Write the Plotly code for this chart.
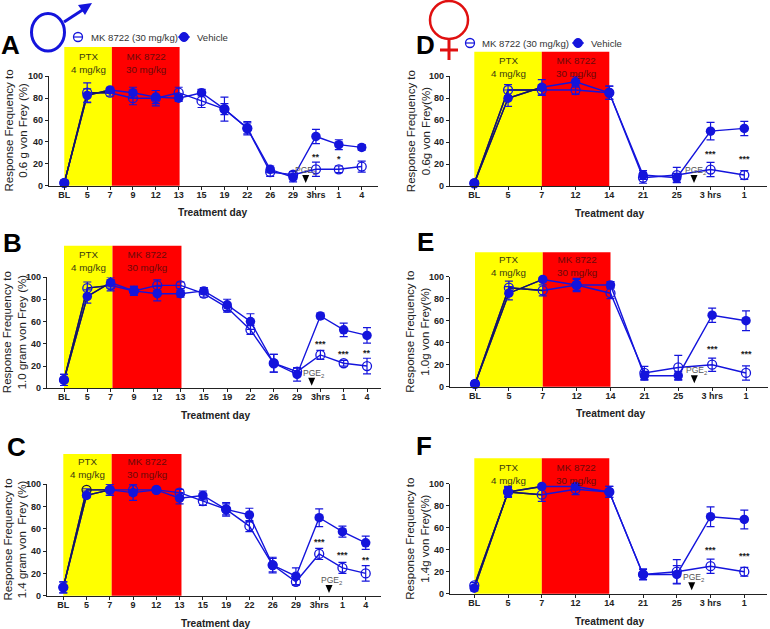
import plotly.graph_objects as go

W, H = 770, 629
BLUE = "#1414dc"
DARK = "#17175a"

# x categories
days_left = ["BL", "5", "7", "9", "12", "13", "15", "19", "22", "26", "29", "3hrs", "1", "4"]
days_right = ["BL", "5", "7", "12", "14", "21", "25", "3 hrs", "1"]

# panel A, 0.6 g male
a_mk = [2.5, 85, 85, 80, 80, 85, 77.5, 70, 52.5, 12.5, 10, 15, 15, 17.5]
a_mk_err = [2.5, 9, 3, 6, 7, 5, 6, 11, 5, 4, 3, 6.5, 3, 5]
a_veh = [2.5, 82.5, 87.5, 85, 81, 80, 85, 70, 52.5, 15, 7.5, 45, 37.5, 35]
a_veh_err = [2.5, 6, 2, 5, 6, 3, 3, 5, 6, 3, 4, 6.5, 4.5, 2.5]

# panel B, 1.0 g male
b_mk = [7.5, 90, 92.5, 87.5, 92.5, 92.5, 85, 72.5, 52.5, 22.5, 15, 30, 22.5, 20]
b_mk_err = [5, 5.5, 5, 4, 5, 3, 3, 4, 4, 8, 3, 4, 2.5, 7]
b_veh = [7.5, 82.5, 95, 87.5, 85, 85, 87.5, 75, 60, 22.5, 12.5, 65, 52.5, 47.5]
b_veh_err = [5, 6, 5, 4, 6.5, 3, 3, 5, 7, 8, 6, 2.5, 6, 7]

# panel C, 1.4 g male
c_mk = [7.5, 95, 95, 95, 95, 92.5, 85, 77.5, 62.5, 27.5, 12.5, 37.5, 25, 20]
c_mk_err = [5, 1, 5, 5, 2, 3, 4, 5, 5, 6, 3, 5, 5, 7]
c_veh = [7.5, 90, 95, 92.5, 95, 87.5, 90, 77.5, 72.5, 27.5, 17.5, 70, 57.5, 47.5]
c_veh_err = [5, 2, 5, 7, 2, 5, 4, 6, 6, 7, 7.5, 8, 5, 6]

# panel D, 0.6 g female
d_mk = [2.5, 87.5, 87.5, 87.5, 85, 7.5, 10, 15, 10]
d_mk_err = [2.5, 5, 5, 4, 6, 5, 7, 6.5, 4]
d_veh = [2.5, 80, 90, 95, 85, 10, 7.5, 50, 52.5]
d_veh_err = [2.5, 7.5, 7, 5, 6, 4, 4, 8, 6.5]

# panel E, 1.0 g female
e_mk = [2.5, 90, 87.5, 92.5, 85, 12.5, 17.5, 20, 12.5]
e_mk_err = [2.5, 6, 5, 6, 5, 6, 11, 6, 6.5]
e_veh = [2.5, 85, 97.5, 92.5, 92.5, 10, 10, 65, 60]
e_veh_err = [2.5, 6, 2, 5, 3, 4, 4, 6.5, 9]

# panel F, 1.4 g female
f_mk = [7.5, 92.5, 90, 95, 92.5, 17.5, 20, 25, 20]
f_mk_err = [2.5, 5, 6, 5, 5, 5, 11, 6.5, 4]
f_veh = [5, 92.5, 97.5, 97.5, 92.5, 17.5, 17.5, 70, 67.5]
f_veh_err = [2.5, 4, 2, 3, 5, 4.5, 8, 9, 8.5]


def px(x):
    return x / W


def py(y):
    return 1 - y / H


# pixel layout: axis left/right, first/last category, y of 0 and 100, band top
panels = [
    dict(name="A", days=days_left, mk=a_mk, mk_err=a_mk_err, veh=a_veh, veh_err=a_veh_err,
         ytitle="Response Frequency to<br>0.6 g von Frey (%)", ytitle_x=15.5, xtitle=(213, 212.7),
         left=49, right=378, first=64.3, last=361.7, y0=185.7, y100=76.3, top=47, split=2.08, end=5.04,
         band_y=62.5, letter=(10, 45), stars=[(11, 26, "**"), (12, 24, "*")],
         pge=(305, 170), tri=(305.7, 179)),
    dict(name="B", days=days_left, mk=b_mk, mk_err=b_mk_err, veh=b_veh, veh_err=b_veh_err,
         ytitle="Response Frequency to<br>1.0 gram von Frey (%)", ytitle_x=14.5, xtitle=(215, 416),
         left=47, right=381, first=64, last=367, y0=388.3, y100=277, top=245.7, split=2.08, end=5.04,
         band_y=261, letter=(13, 243), stars=[(11, 40, "***"), (12, 31, "***"), (13, 32, "**")],
         pge=(313, 373), tri=(311.7, 381.7)),
    dict(name="C", days=days_left, mk=c_mk, mk_err=c_mk_err, veh=c_veh, veh_err=c_veh_err,
         ytitle="Response Frequency to<br>1.4 gram von  Frey (%)", ytitle_x=14.5, xtitle=(215, 623),
         left=47, right=381, first=63.3, last=365.7, y0=595.7, y100=484.3, top=454, split=2.08, end=5.08,
         band_y=468, letter=(16, 447), stars=[(11, 48, "***"), (12, 36.5, "***"), (13, 32, "**")],
         pge=(331, 580), tri=(329, 589)),
    dict(name="D", days=days_right, mk=d_mk, mk_err=d_mk_err, veh=d_veh, veh_err=d_veh_err,
         ytitle="Response Frequency to<br>0.6g von Frey(%)", ytitle_x=418, xtitle=(609, 213.7),
         left=450, right=767, first=474.3, last=744.3, y0=186, y100=76.3, top=51.7, split=2, end=4,
         band_y=67.5, letter=(425, 45), stars=[(7, 29, "***"), (8, 24.6, "***")],
         pge=(695.7, 170), tri=(694, 179)),
    dict(name="E", days=days_right, mk=e_mk, mk_err=e_mk_err, veh=e_veh, veh_err=e_veh_err,
         ytitle="Response Frequency to<br>1.0g von Frey(%)", ytitle_x=418, xtitle=(610.7, 414),
         left=450, right=768, first=475, last=746, y0=386.7, y100=276.7, top=252.3, split=2, end=4,
         band_y=266, letter=(425, 242), stars=[(7, 34, "***"), (8, 29.5, "***")],
         pge=(696, 370.7), tri=(694.3, 379.3)),
    dict(name="F", days=days_right, mk=f_mk, mk_err=f_mk_err, veh=f_veh, veh_err=f_veh_err,
         ytitle="Response Frequency to<br>1.4g von Frey(%)", ytitle_x=418, xtitle=(609, 621),
         left=450, right=767, first=474.3, last=744.3, y0=593.7, y100=483.7, top=458.3, split=2, end=4,
         band_y=473.5, letter=(424, 446), stars=[(7, 39.7, "***"), (8, 34.5, "***")],
         pge=(693, 577.7), tri=(691.7, 586.3)),
]

fig = go.Figure()
shapes = []
notes = []
axis_font = dict(family="Liberation Sans", size=9, color="#222222", weight="bold")


def note(x, y, text, size, color, xref="paper", yref="paper", angle=0, xanchor="center"):
    notes.append(dict(xref=xref, yref=yref, x=x, y=y, text=text, showarrow=False, textangle=angle,
                      xanchor=xanchor, yanchor="middle",
                      font=dict(family="Liberation Sans", size=size, color=color)))


def paper_shape(**kw):
    shapes.append(dict(xref="paper", yref="paper", **kw))


def legend_row(y, open_x, text_x, solid_x, vehicle_x):
    paper_shape(type="circle", x0=px(open_x - 4.5), x1=px(open_x + 4.5), y0=py(y + 4.5), y1=py(y - 4.5),
                line=dict(color=BLUE, width=1.3))
    paper_shape(type="line", x0=px(open_x - 4.5), x1=px(open_x + 4.5), y0=py(y), y1=py(y),
                line=dict(color=BLUE, width=1.2))
    note(px(text_x), py(y), "MK 8722 (30 mg/kg)", 9.6, "#333333", xanchor="left")
    paper_shape(type="circle", x0=px(solid_x - 4.5), x1=px(solid_x + 4.5), y0=py(y + 4.5), y1=py(y - 4.5),
                fillcolor=BLUE, line=dict(color=BLUE, width=1))
    paper_shape(type="line", x0=px(solid_x - 6), x1=px(solid_x + 6), y0=py(y), y1=py(y),
                line=dict(color=BLUE, width=1.2))
    note(px(vehicle_x), py(y), "Vehicle", 9.6, "#333333", xanchor="left")


for n, p in enumerate(panels):
    s = "" if n == 0 else str(n + 1)
    days = p["days"]
    step = (p["last"] - p["first"]) / (len(days) - 1)
    xr = [(p["left"] - p["first"]) / step, (p["right"] - p["first"]) / step]

    fig.update_layout({
        "xaxis" + s: dict(
            domain=[px(p["left"]), px(p["right"])], range=xr, type="category",
            categoryorder="array", categoryarray=days, tickvals=days, anchor="y" + s,
            showgrid=False, zeroline=False, showline=True, linecolor="#222222", linewidth=1.3,
            ticks="outside", ticklen=3, tickcolor="#222222", tickwidth=1.2,
            tickfont=axis_font, tickangle=0, ticklabelstandoff=-3,
        ),
        "yaxis" + s: dict(
            domain=[py(p["y0"]), py(p["y100"])], range=[0, 100], anchor="x" + s,
            tickvals=[0, 20, 40, 60, 80, 100], showgrid=False, zeroline=False,
            showline=True, linecolor="#222222", linewidth=1.3,
            ticks="outside", ticklen=3, tickcolor="#222222", tickwidth=1.2,
            tickfont=axis_font,
        ),
    })

    # lines first, then the part over the yellow band (darker there), then markers on top
    for vals in (p["mk"], p["veh"]):
        fig.add_trace(go.Scatter(x=days, y=vals, mode="lines", xaxis="x" + s, yaxis="y" + s,
                                 showlegend=False, cliponaxis=False, line=dict(color=BLUE, width=1.4)))
    for vals in (p["mk"], p["veh"]):
        fig.add_trace(go.Scatter(x=days[:3], y=vals[:3], mode="lines", xaxis="x" + s, yaxis="y" + s,
                                 showlegend=False, cliponaxis=False, line=dict(color=DARK, width=1.4)))

    mk_edge = [BLUE] * len(days)
    if p["name"] == "C":
        mk_edge[1] = "#14143c"
    fig.add_trace(go.Scatter(
        x=days, y=p["mk"], mode="markers", name="MK 8722 (30 mg/kg)",
        xaxis="x" + s, yaxis="y" + s, showlegend=False, cliponaxis=False,
        marker=dict(symbol="circle-open", size=9, color=mk_edge, line=dict(width=1.3, color=mk_edge)),
        error_y=dict(type="data", array=p["mk_err"], color=BLUE, thickness=1.2, width=4),
    ))
    fig.add_trace(go.Scatter(
        x=days, y=p["veh"], mode="markers", name="Vehicle",
        xaxis="x" + s, yaxis="y" + s, showlegend=False, cliponaxis=False,
        marker=dict(symbol="circle", size=9.5, color=BLUE),
        error_y=dict(type="data", array=p["veh_err"], color=BLUE, thickness=1.2, width=4),
    ))

    # treatment bands
    shapes.append(dict(type="rect", layer="below", xref="x" + s, yref="paper", x0=0, x1=p["split"],
                       y0=py(p["y0"]), y1=py(p["top"]), fillcolor="#ffff00", line_width=0))
    shapes.append(dict(type="rect", layer="below", xref="x" + s, yref="paper", x0=p["split"], x1=p["end"],
                       y0=py(p["y0"]), y1=py(p["top"]), fillcolor="#ff0000", line_width=0))
    note(p["split"] / 2, py(p["band_y"]), "PTX<br>4 mg/kg", 9.8, "#3a3a10", xref="x" + s)
    note((p["split"] + p["end"]) / 2, py(p["band_y"]), "MK 8722<br>30 mg/kg", 9.8, "#6a0a0a", xref="x" + s)

    # axis titles
    note(px(p["ytitle_x"]), py((p["y0"] + p["y100"]) / 2), p["ytitle"], 11.5, "#222222", angle=-90)
    note(px(p["xtitle"][0]), py(p["xtitle"][1]), "<b>Treatment day</b>", 10.2, "#222222")

    # panel letter
    note(px(p["letter"][0]), py(p["letter"][1]), "<b>%s</b>" % p["name"], 26, "#000000")

    # significance stars
    for day, val, mark in p["stars"]:
        note(day, val, "<b>%s</b>" % mark, 9, "#222222", xref="x" + s, yref="y" + s)

    # PGE2 marker
    note(px(p["pge"][0]), py(p["pge"][1]), "PGE<sub>2</sub>", 8.5, "#555555")
    tx, ty = p["tri"]
    paper_shape(type="path", fillcolor="#000000", line_width=0,
                path="M %f %f L %f %f L %f %f Z" % (px(tx - 3.5), py(ty - 4), px(tx + 3.5), py(ty - 4),
                                                    px(tx), py(ty + 4)))

legend_row(37, 78, 89, 184, 195)
legend_row(43, 470, 480, 578, 589)

# male symbol
paper_shape(type="circle", x0=px(31.5), x1=px(64.5), y0=py(51), y1=py(13.5), line=dict(color=BLUE, width=3))
paper_shape(type="line", x0=px(64), y0=py(22), x1=px(84), y1=py(9), line=dict(color=BLUE, width=3))
paper_shape(type="path", fillcolor=BLUE, line_width=0,
            path="M %f %f L %f %f L %f %f Z" % (px(78), py(5), px(92), py(3), px(85), py(15)))

# female symbol
paper_shape(type="circle", x0=px(430), x1=px(468), y0=py(39), y1=py(1), line=dict(color="#e01010", width=2.5))
paper_shape(type="line", x0=px(449), y0=py(39), x1=px(449), y1=py(60), line=dict(color="#e01010", width=3))
paper_shape(type="line", x0=px(440), y0=py(50), x1=px(458), y1=py(50), line=dict(color="#e01010", width=3))

fig.update_layout(
    width=W, height=H, margin=dict(l=0, r=0, t=0, b=0, autoexpand=False),
    paper_bgcolor="white", plot_bgcolor="rgba(0,0,0,0)", shapes=shapes, annotations=notes,
)

# the page's default body margin would shift the whole figure by 8 px
fig.write_html("out.html", config=dict(displayModeBar=False),
               post_script="document.body.style.margin='0';")
